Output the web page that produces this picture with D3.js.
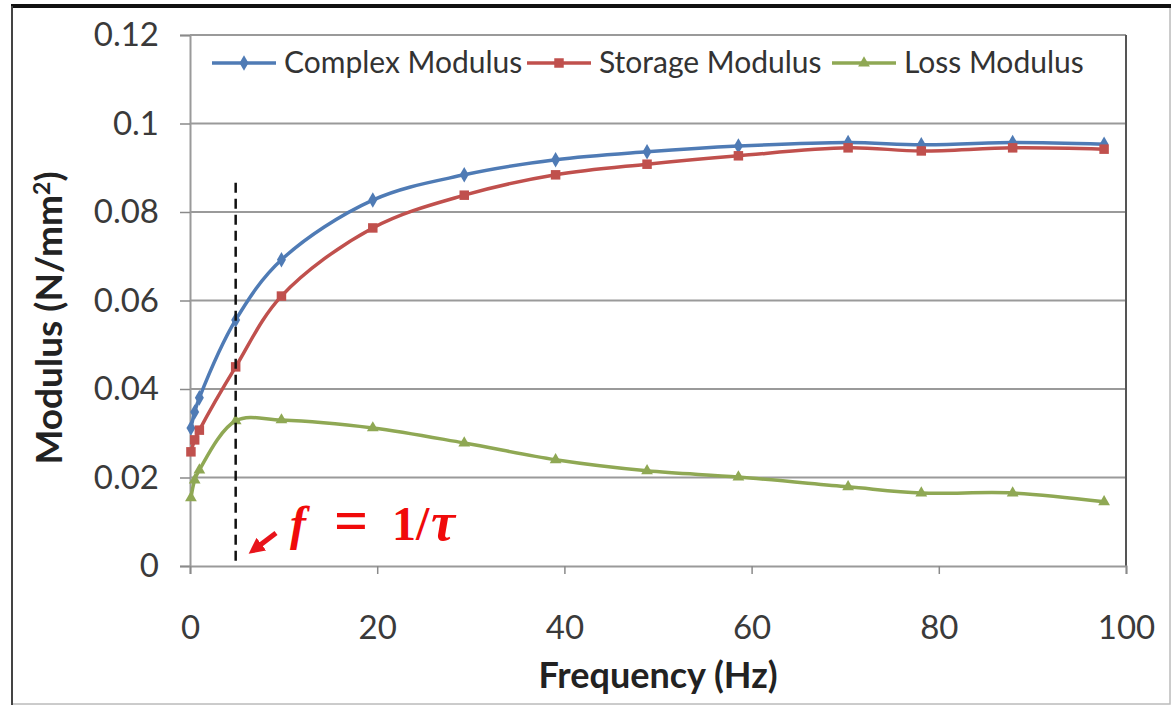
<!DOCTYPE html>
<html>
<head>
<meta charset="utf-8">
<script src="https://cdn.jsdelivr.net/npm/d3@7"></script>
<style>
  body { margin: 0; background: #fff; }
  svg { display: block; }
</style>
</head>
<body>
<svg></svg>
<script>
// Modulus vs frequency chart
const w = 1174;
const h = 707;

// data
const frequency = [0.1, 0.5, 1, 4.88, 9.77, 19.53, 29.3, 39.06, 48.83, 58.59, 70.31, 78.13, 87.89, 97.66];
const complexModulus = [0.0312, 0.0348, 0.0380, 0.0556, 0.0692, 0.0827, 0.0884, 0.0918, 0.0936, 0.0949, 0.0957, 0.0952, 0.0957, 0.0953];
const storageModulus = [0.0258, 0.0285, 0.0307, 0.0450, 0.0610, 0.0764, 0.0838, 0.0884, 0.0908, 0.0927, 0.0945, 0.0938, 0.0945, 0.0942];
const lossModulus = [0.0154, 0.0194, 0.0217, 0.0328, 0.0330, 0.0312, 0.0278, 0.0240, 0.0215, 0.0201, 0.0179, 0.0165, 0.0165, 0.0145];
const seriesNames = ["Complex Modulus", "Storage Modulus", "Loss Modulus"];
const xTicks = [0, 20, 40, 60, 80, 100];
const yTicks = [0, 0.02, 0.04, 0.06, 0.08, 0.1, 0.12];
const markerFreq = 4.88;   // f = 1/tau
const markerTop = 0.0866;

const colors = ["#4f7bb5", "#c0504d", "#8fa854"];
const shapes = [d3.symbolDiamond, d3.symbolSquare, d3.symbolTriangle];
const shapeSize = [70, 90, 60];

const svg = d3.select("svg").attr("width", w).attr("height", h);

// chart frame
svg.append("rect").attr("x", 12).attr("y", 6).attr("width", 1158).attr("height", 698)
  .attr("fill", "#fff").attr("stroke", "#bbb").attr("stroke-width", 1.5);
svg.append("line").attr("x1", 11).attr("x2", 1171).attr("y1", 6).attr("y2", 6)
  .attr("stroke", "#111").attr("stroke-width", 4);
svg.append("line").attr("x1", 12).attr("x2", 12).attr("y1", 6).attr("y2", 705)
  .attr("stroke", "#444").attr("stroke-width", 2);

// scales
const xScale = d3.scaleLinear().domain([0, 100]).range([190, 1126]);
const yScale = d3.scaleLinear().domain([0, 0.12]).range([566, 35]);

// gridlines
svg.append("g")
  .selectAll("line")
  .data(yTicks.filter(d => d > 0))
  .enter()
  .append("line")
  .attr("x1", xScale(0)).attr("x2", xScale(100))
  .attr("y1", d => yScale(d)).attr("y2", d => yScale(d))
  .attr("stroke", "#9a9a9a").attr("stroke-width", 2);

// right border of plot
svg.append("line")
  .attr("x1", xScale(100)).attr("x2", xScale(100))
  .attr("y1", yScale(0.12)).attr("y2", yScale(0))
  .attr("stroke", "#555").attr("stroke-width", 2);

// axes
const yAxis = d3.axisLeft(yScale)
  .tickValues(yTicks)
  .tickFormat(d => String(+d.toFixed(2)))
  .tickSize(10)
  .tickPadding(21);
const xAxis = d3.axisBottom(xScale)
  .tickValues(xTicks)
  .tickSize(8)
  .tickPadding(42);

const gy = svg.append("g").attr("transform", "translate(" + xScale(0) + ",0)").call(yAxis);
const gx = svg.append("g").attr("transform", "translate(0," + yScale(0) + ")").call(xAxis);
[gx, gy].forEach(g => {
  g.select(".domain").attr("stroke", "#9a9a9a").attr("stroke-width", 2);
  g.selectAll(".tick line").attr("stroke", "#8a8a8a").attr("stroke-width", 1.5);
  g.selectAll(".tick text")
    .attr("fill", "#3a3a3a")
    .style("font-family", "Lato, 'Open Sans', sans-serif")
    .style("font-size", "33px");
});

// axis titles
svg.append("text")
  .attr("x", 658).attr("y", 688)
  .attr("text-anchor", "middle")
  .style("font-family", "Lato, 'Open Sans', sans-serif")
  .style("font-weight", "bold")
  .style("font-size", "36px")
  .attr("fill", "#222")
  .text("Frequency (Hz)");

const yTitle = svg.append("text")
  .attr("transform", "translate(62," + 318 + ") rotate(-90)")
  .attr("text-anchor", "middle")
  .style("font-family", "Lato, 'Open Sans', sans-serif")
  .style("font-weight", "bold")
  .style("font-size", "37px")
  .attr("fill", "#222");
yTitle.append("tspan").text("Modulus (N/mm");
yTitle.append("tspan").attr("dy", -12).style("font-size", "23px").text("2");
yTitle.append("tspan").attr("dy", 12).text(")");

// series
const allSeries = [complexModulus, storageModulus, lossModulus];
const line = d3.line()
  .x(d => xScale(d[0]))
  .y(d => yScale(d[1]))
  .curve(d3.curveCatmullRom.alpha(0.5));

allSeries.forEach((vals, i) => {
  const pts = frequency.map((f, j) => [f, vals[j]]);
  svg.append("path")
    .datum(pts)
    .attr("d", line)
    .attr("fill", "none")
    .attr("stroke", colors[i])
    .attr("stroke-width", 3.5);
  svg.append("g")
    .selectAll("path")
    .data(pts)
    .enter()
    .append("path")
    .attr("d", d3.symbol().type(shapes[i]).size(shapeSize[i]))
    .attr("transform", d => "translate(" + xScale(d[0]) + "," + yScale(d[1]) + ")")
    .attr("fill", colors[i]);
});

// legend
const legendX = [212, 527, 832];
const legend = svg.append("g")
  .selectAll("g")
  .data(seriesNames)
  .enter()
  .append("g")
  .attr("transform", (d, i) => "translate(" + legendX[i] + ",63)");
legend.append("line")
  .attr("x1", 0).attr("x2", 64).attr("y1", 0).attr("y2", 0)
  .attr("stroke", (d, i) => colors[i]).attr("stroke-width", 3.5);
legend.append("path")
  .attr("d", (d, i) => d3.symbol().type(shapes[i]).size(shapeSize[i])())
  .attr("transform", "translate(32,0)")
  .attr("fill", (d, i) => colors[i]);
legend.append("text")
  .attr("x", 72).attr("y", 10)
  .style("font-family", "Lato, 'Open Sans', sans-serif")
  .style("font-size", "30px")
  .attr("fill", "#333")
  .text(d => d);

// f = 1/tau marker
svg.append("line")
  .attr("x1", xScale(markerFreq)).attr("x2", xScale(markerFreq))
  .attr("y1", yScale(markerTop)).attr("y2", yScale(0))
  .attr("stroke", "#111").attr("stroke-width", 2.5)
  .attr("stroke-dasharray", "10,6");

svg.append("defs").append("marker")
  .attr("id", "arrowhead")
  .attr("viewBox", "0 0 10 10")
  .attr("refX", 5).attr("refY", 5)
  .attr("markerWidth", 3.2).attr("markerHeight", 3.2)
  .attr("orient", "auto")
  .append("path")
  .attr("d", "M0,0 L10,5 L0,10 z")
  .attr("fill", "#e8141b");
svg.append("line")
  .attr("x1", 276).attr("y1", 533)
  .attr("x2", 255).attr("y2", 549)
  .attr("stroke", "#e8141b").attr("stroke-width", 5)
  .attr("marker-end", "url(#arrowhead)");

const formula = svg.append("text")
  .attr("y", 540)
  .style("font-family", "'Liberation Serif', 'DejaVu Serif', serif")
  .style("font-weight", "bold")
  .style("font-size", "48px")
  .attr("fill", "#f00a0a");
formula.append("tspan").attr("x", 290).style("font-style", "italic").text("f");
formula.append("tspan").attr("x", 334).style("font-size", "60px").text("=");
formula.append("tspan").attr("x", 392).text("1/");
formula.append("tspan").attr("x", 431).style("font-style", "italic").style("font-size", "54px").text("τ");
</script>
</body>
</html>
